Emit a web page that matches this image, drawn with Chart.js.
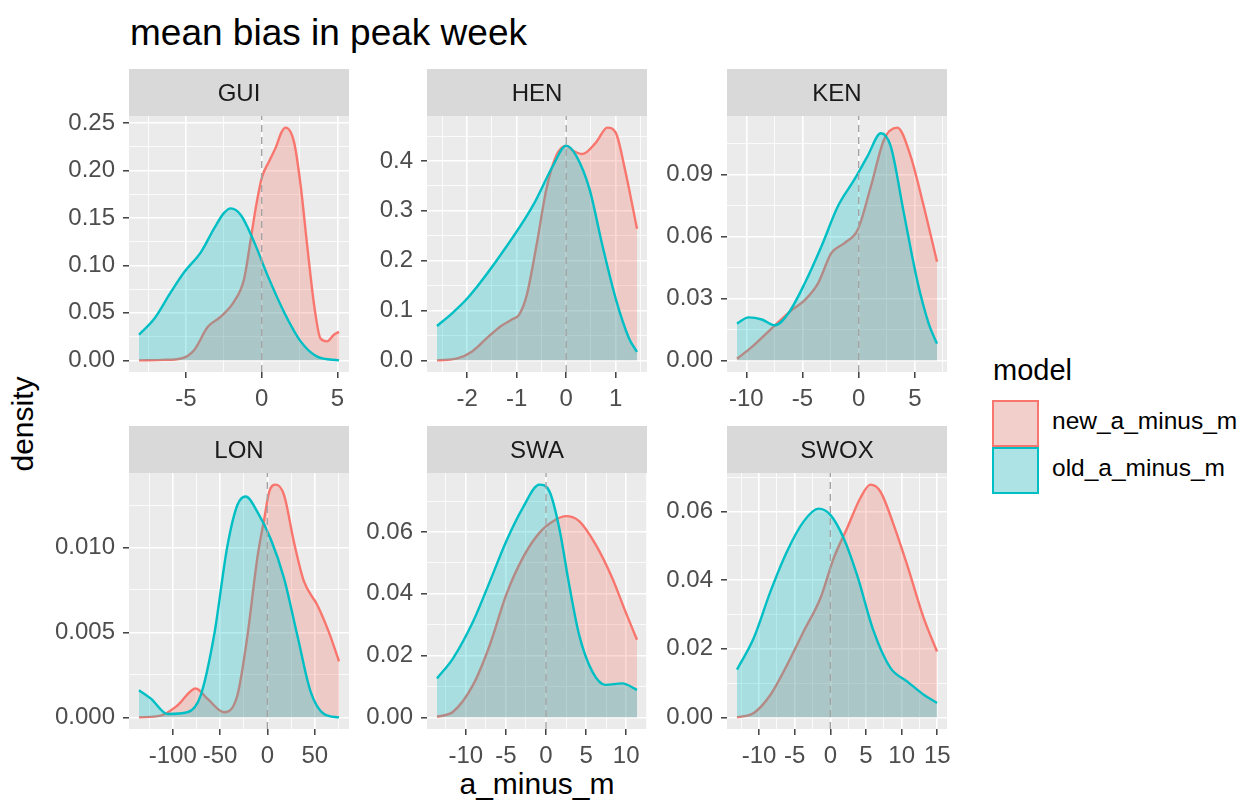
<!DOCTYPE html>
<html>
<head>
<meta charset="utf-8">
<title>mean bias in peak week</title>
<script src="https://cdn.jsdelivr.net/npm/chart.js@4.4.0/dist/chart.umd.min.js"></script>
<style>
  body { margin: 0; background: #fff; font-family: "Liberation Sans", Arial, sans-serif; }
  #wrap { position: relative; width: 1247px; height: 803px; overflow: hidden; }
  #wrap canvas { position: absolute; }
  .txt { position: absolute; white-space: nowrap; color: #000; }
  .key { position: absolute; width: 47px; height: 47px; background: #F2F2F2; }
  .key div { width: 100%; height: 100%; box-sizing: border-box; border: 2px solid; }
</style>
</head>
<body>
<div id="wrap">
  <div class="txt" style="left:130px;top:14px;font-size:37px;line-height:37px;">mean bias in peak week</div>
  <div class="txt" style="left:-77px;top:409px;width:200px;height:30px;font-size:30px;line-height:30px;text-align:center;transform:rotate(-90deg);">density</div>
  <div class="txt" style="left:387px;top:769px;width:300px;font-size:30px;line-height:30px;text-align:center;">a_minus_m</div>

  <div class="txt" style="left:993px;top:356px;font-size:29px;line-height:29px;">model</div>
  <div class="key" style="left:992px;top:400px;"><div style="border-color:#F8766D;background:rgba(248,118,109,0.28);"></div></div>
  <div class="key" style="left:992px;top:447px;"><div style="border-color:#00BFC4;background:rgba(0,191,196,0.28);"></div></div>
  <div class="txt" style="left:1052px;top:409px;font-size:24.5px;line-height:24px;">new_a_minus_m</div>
  <div class="txt" style="left:1052px;top:456px;font-size:24.5px;line-height:24px;">old_a_minus_m</div>
</div>
<script>
// facet names and legend labels
const panelNames = ["GUI", "HEN", "KEN", "LON", "SWA", "SWOX"];
const seriesNames = ["new_a_minus_m", "old_a_minus_m"];
const refX = 0; // dashed reference line

// density curves: [x, density]
const guiNew = [[-8.1,0],[-6.5,0.0005],[-5.33,0.002],[-4.45,0.011],[-3.57,0.035],[-2.7,0.046],[-1.82,0.062],
  [-1.16,0.086],[-0.72,0.128],[-0.4,0.16],[0,0.192],[0.5,0.21],[0.95,0.225],[1.3,0.24],[1.58,0.245],[2.13,0.23],
  [2.57,0.184],[3.0,0.121],[3.46,0.058],[3.88,0.023],[4.32,0.02],[4.76,0.027],[5.1,0.03]];
const guiOld = [[-8.1,0.027],[-7.08,0.044],[-5.99,0.072],[-5.11,0.093],[-4.01,0.114],[-3.14,0.139],[-2.5,0.155],
  [-2.04,0.16],[-1.38,0.153],[-0.51,0.125],[0.37,0.09],[1.47,0.051],[2.57,0.02],[3.66,0.004],[5.1,0]];

const henNew = [[-2.61,0],[-2.2,0.004],[-1.9,0.018],[-1.6,0.045],[-1.33,0.068],[-1.1,0.082],[-0.95,0.092],
  [-0.8,0.13],[-0.6,0.231],[-0.4,0.344],[-0.2,0.411],[0,0.431],[0.15,0.42],[0.33,0.414],[0.6,0.437],[0.83,0.467],
  [1.0,0.457],[1.2,0.377],[1.43,0.264]];
const henOld = [[-2.61,0.069],[-2.3,0.095],[-2.0,0.124],[-1.33,0.211],[-0.67,0.311],[-0.27,0.39],[0,0.431],
  [0.2,0.411],[0.47,0.344],[0.73,0.231],[1.0,0.124],[1.27,0.044],[1.43,0.017]];

const kenNew = [[-10.83,0.0008],[-9.5,0.0065],[-7.45,0.017],[-5.97,0.0243],[-4.8,0.0292],[-3.62,0.0373],
  [-2.44,0.0519],[-1.27,0.0568],[-0.09,0.0632],[1.09,0.0843],[2.26,0.107],[3.44,0.1127],[4.62,0.0989],
  [5.79,0.0746],[6.97,0.0478]];
const kenOld = [[-10.83,0.0178],[-9.8,0.0208],[-8.62,0.0198],[-7.45,0.017],[-6.27,0.0227],[-4.8,0.0373],
  [-3.33,0.055],[-1.85,0.0746],[-0.38,0.0876],[0.79,0.0989],[1.97,0.11],[2.85,0.1037],[4.02,0.0713],
  [5.2,0.0389],[6.23,0.0178],[6.97,0.0081]];

const lonNew = [[-135.6,0],[-112.7,0.0001],[-95,0.0007],[-75.7,0.0017],[-63.4,0.0011],[-45.8,0.0003],
  [-31.7,0.0013],[-21.1,0.0048],[-10.6,0.0094],[-3,0.0118],[2,0.0133],[8.8,0.0137],[17.5,0.0131],
  [28.1,0.0103],[38.6,0.008],[52.8,0.0066],[65,0.005],[75.6,0.0033]];
const lonOld = [[-135.6,0.0016],[-123,0.0011],[-105.6,0.0002],[-84.5,0.0003],[-70.4,0.0013],[-56.4,0.0048],
  [-42.2,0.0101],[-31.7,0.0125],[-22.9,0.013],[-10.6,0.0121],[3.5,0.0105],[17.5,0.0082],[31.7,0.0048],
  [45.7,0.0015],[59.8,0.0002],[75.6,0]];

const swaNew = [[-13.6,0.0002],[-11.6,0.0018],[-9.1,0.0105],[-7.0,0.0235],[-4.96,0.0397],[-2.9,0.0516],
  [-0.83,0.0597],[1.24,0.064],[2.48,0.0651],[4.13,0.0635],[6.2,0.0559],[8.26,0.0451],[9.9,0.0343],[11.35,0.0251]];
const swaOld = [[-13.6,0.0126],[-11.6,0.0191],[-9.1,0.031],[-7.0,0.044],[-4.96,0.057],[-2.9,0.0678],
  [-0.83,0.0753],[0.41,0.0732],[1.65,0.0613],[2.89,0.0429],[4.13,0.0267],[5.78,0.0148],[7.43,0.0105],
  [9.5,0.011],[11.35,0.0089]];

const swoxNew = [[-13.1,0],[-10.75,0.0013],[-8.4,0.0066],[-6.07,0.0153],[-3.74,0.0251],[-1.4,0.0347],
  [0.47,0.0464],[2.34,0.0551],[4.21,0.0639],[5.61,0.0678],[7.01,0.0658],[8.88,0.0561],[10.76,0.0445],
  [13.1,0.0289],[14.96,0.0192]];
const swoxOld = [[-13.1,0.0139],[-10.75,0.0231],[-8.4,0.0367],[-6.07,0.0484],[-3.74,0.0571],[-1.64,0.0608],
  [0,0.059],[1.87,0.0522],[3.74,0.0415],[6.07,0.0251],[8.42,0.0144],[10.76,0.0105],[13.1,0.0066],[14.96,0.0042]];

// tick values and labels
const guiXTicks = [-5, 0, 5],               guiXLabels = ["-5", "0", "5"];
const guiYTicks = [0, 0.05, 0.1, 0.15, 0.2, 0.25], guiYLabels = ["0.00", "0.05", "0.10", "0.15", "0.20", "0.25"];
const henXTicks = [-2, -1, 0, 1],           henXLabels = ["-2", "-1", "0", "1"];
const henYTicks = [0, 0.1, 0.2, 0.3, 0.4],  henYLabels = ["0.0", "0.1", "0.2", "0.3", "0.4"];
const kenXTicks = [-10, -5, 0, 5],          kenXLabels = ["-10", "-5", "0", "5"];
const kenYTicks = [0, 0.03, 0.06, 0.09],    kenYLabels = ["0.00", "0.03", "0.06", "0.09"];
const lonXTicks = [-100, -50, 0, 50],       lonXLabels = ["-100", "-50", "0", "50"];
const lonYTicks = [0, 0.005, 0.01],         lonYLabels = ["0.000", "0.005", "0.010"];
const swaXTicks = [-10, -5, 0, 5, 10],      swaXLabels = ["-10", "-5", "0", "5", "10"];
const swaYTicks = [0, 0.02, 0.04, 0.06],    swaYLabels = ["0.00", "0.02", "0.04", "0.06"];
const swoxXTicks = [-10, -5, 0, 5, 10, 15], swoxXLabels = ["-10", "-5", "0", "5", "10", "15"];
const swoxYTicks = [0, 0.02, 0.04, 0.06],   swoxYLabels = ["0.00", "0.02", "0.04", "0.06"];

const newSeries = [guiNew, henNew, kenNew, lonNew, swaNew, swoxNew];
const oldSeries = [guiOld, henOld, kenOld, lonOld, swaOld, swoxOld];
const xTicks = [guiXTicks, henXTicks, kenXTicks, lonXTicks, swaXTicks, swoxXTicks];
const xLabels = [guiXLabels, henXLabels, kenXLabels, lonXLabels, swaXLabels, swoxXLabels];
const yTicks = [guiYTicks, henYTicks, kenYTicks, lonYTicks, swaYTicks, swoxYTicks];
const yLabels = [guiYLabels, henYLabels, kenYLabels, lonYLabels, swaYLabels, swoxYLabels];

// layout
const colLeft = [129, 427, 727];
const rowTop = [69, 426];
const PLOT_W = 220, PLOT_H = 256, STRIP_H = 47, AXIS_W = 90, AXIS_H = 40, PAD_R = 20;
const FONT = '"Liberation Sans", Arial, sans-serif';

Chart.defaults.font.family = FONT;

const RED = "#F8766D", TEAL = "#00BFC4";
const RED_FILL = "rgba(248,118,109,0.28)", TEAL_FILL = "rgba(0,191,196,0.28)";

const panelDeco = {
  id: "panelDeco",
  beforeDraw(chart, args, opts) {
    const { ctx, chartArea: a } = chart;
    ctx.save();
    ctx.fillStyle = "#EBEBEB";
    ctx.fillRect(a.left, a.top, a.right - a.left, a.bottom - a.top);
    ctx.fillStyle = "#D9D9D9";
    ctx.fillRect(a.left, a.top - STRIP_H, a.right - a.left, STRIP_H);
    ctx.fillStyle = "#1A1A1A";
    ctx.font = "24px " + FONT;
    ctx.textAlign = "center";
    ctx.textBaseline = "middle";
    ctx.fillText(opts.label, (a.left + a.right) / 2, a.top - STRIP_H / 2 + 2);
    ctx.restore();
  }
};

// majors plus the midpoints between them (and one step beyond each end)
function gridValues(major, lo, hi) {
  const step = major[1] - major[0];
  const out = [];
  const first = major[0] - step / 2;
  for (let v = first; v <= hi + 1e-12; v += step / 2) {
    if (v >= lo) out.push(+v.toFixed(10));
  }
  return out;
}

function finder(major) {
  return v => major.findIndex(m => Math.abs(m - v) < 1e-9);
}

function range(vals, lowZero) {
  let lo = Math.min(...vals), hi = Math.max(...vals);
  if (lowZero) lo = 0;
  const e = (hi - lo) * 0.05;
  return [lo - e, hi + e];
}

function axisOpts(ticks, labels, lim, isX) {
  const idx = finder(ticks);
  return {
    type: "linear",
    min: lim[0],
    max: lim[1],
    afterBuildTicks: s => { s.ticks = gridValues(ticks, lim[0], lim[1]).map(v => ({ value: v })); },
    afterFit: s => { if (isX) s.height = AXIS_H; else s.width = AXIS_W; },
    border: { display: false },
    grid: {
      color: "#FFFFFF",
      lineWidth: c => (c.tick && idx(c.tick.value) >= 0 ? 1.6 : 0.8),
      drawTicks: true,
      tickLength: 6,
      tickWidth: 1.4,
      tickColor: c => (c.tick && idx(c.tick.value) >= 0 ? "#333333" : "rgba(0,0,0,0)")
    },
    ticks: {
      autoSkip: false,
      maxRotation: 0,
      padding: isX ? 7 : 8,
      color: "#4D4D4D",
      font: { size: 24 },
      callback: v => { const i = idx(v); return i >= 0 ? labels[i] : ""; }
    }
  };
}

const wrap = document.getElementById("wrap");

panelNames.forEach((name, p) => {
  const col = p % 3, row = Math.floor(p / 3);
  const cv = document.createElement("canvas");
  const w = AXIS_W + PLOT_W + PAD_R, h = STRIP_H + PLOT_H + AXIS_H;
  cv.width = w; cv.height = h;
  cv.style.width = w + "px"; cv.style.height = h + "px";
  cv.style.left = (colLeft[col] - AXIS_W) + "px";
  cv.style.top = rowTop[row] + "px";
  wrap.appendChild(cv);

  const nw = newSeries[p].map(([x, y]) => ({ x, y }));
  const od = oldSeries[p].map(([x, y]) => ({ x, y }));
  const xr = range(nw.concat(od).map(d => d.x), false);
  const yr = range(nw.concat(od).map(d => d.y), true);

  new Chart(cv, {
    type: "line",
    data: {
      datasets: [
        { label: "vline", data: [{ x: refX, y: yr[0] }, { x: refX, y: yr[1] }],
          borderColor: "#A3A3A3", borderWidth: 1.4, borderDash: [7, 5], pointRadius: 0, fill: false, order: 0 },
        { label: seriesNames[1], data: od, borderColor: TEAL, backgroundColor: TEAL_FILL, borderWidth: 2.4,
          pointRadius: 0, fill: "origin", cubicInterpolationMode: "monotone", order: 1 },
        { label: seriesNames[0], data: nw, borderColor: RED, backgroundColor: RED_FILL, borderWidth: 2.4,
          pointRadius: 0, fill: "origin", cubicInterpolationMode: "monotone", order: 2 }
      ]
    },
    options: {
      responsive: false,
      animation: false,
      events: [],
      layout: { padding: { top: STRIP_H, right: PAD_R, left: 0, bottom: 0 } },
      plugins: { legend: { display: false }, tooltip: { enabled: false }, panelDeco: { label: name } },
      scales: {
        x: axisOpts(xTicks[p], xLabels[p], xr, true),
        y: axisOpts(yTicks[p], yLabels[p], yr, false)
      }
    },
    plugins: [panelDeco]
  });
});
</script>
</body>
</html>
